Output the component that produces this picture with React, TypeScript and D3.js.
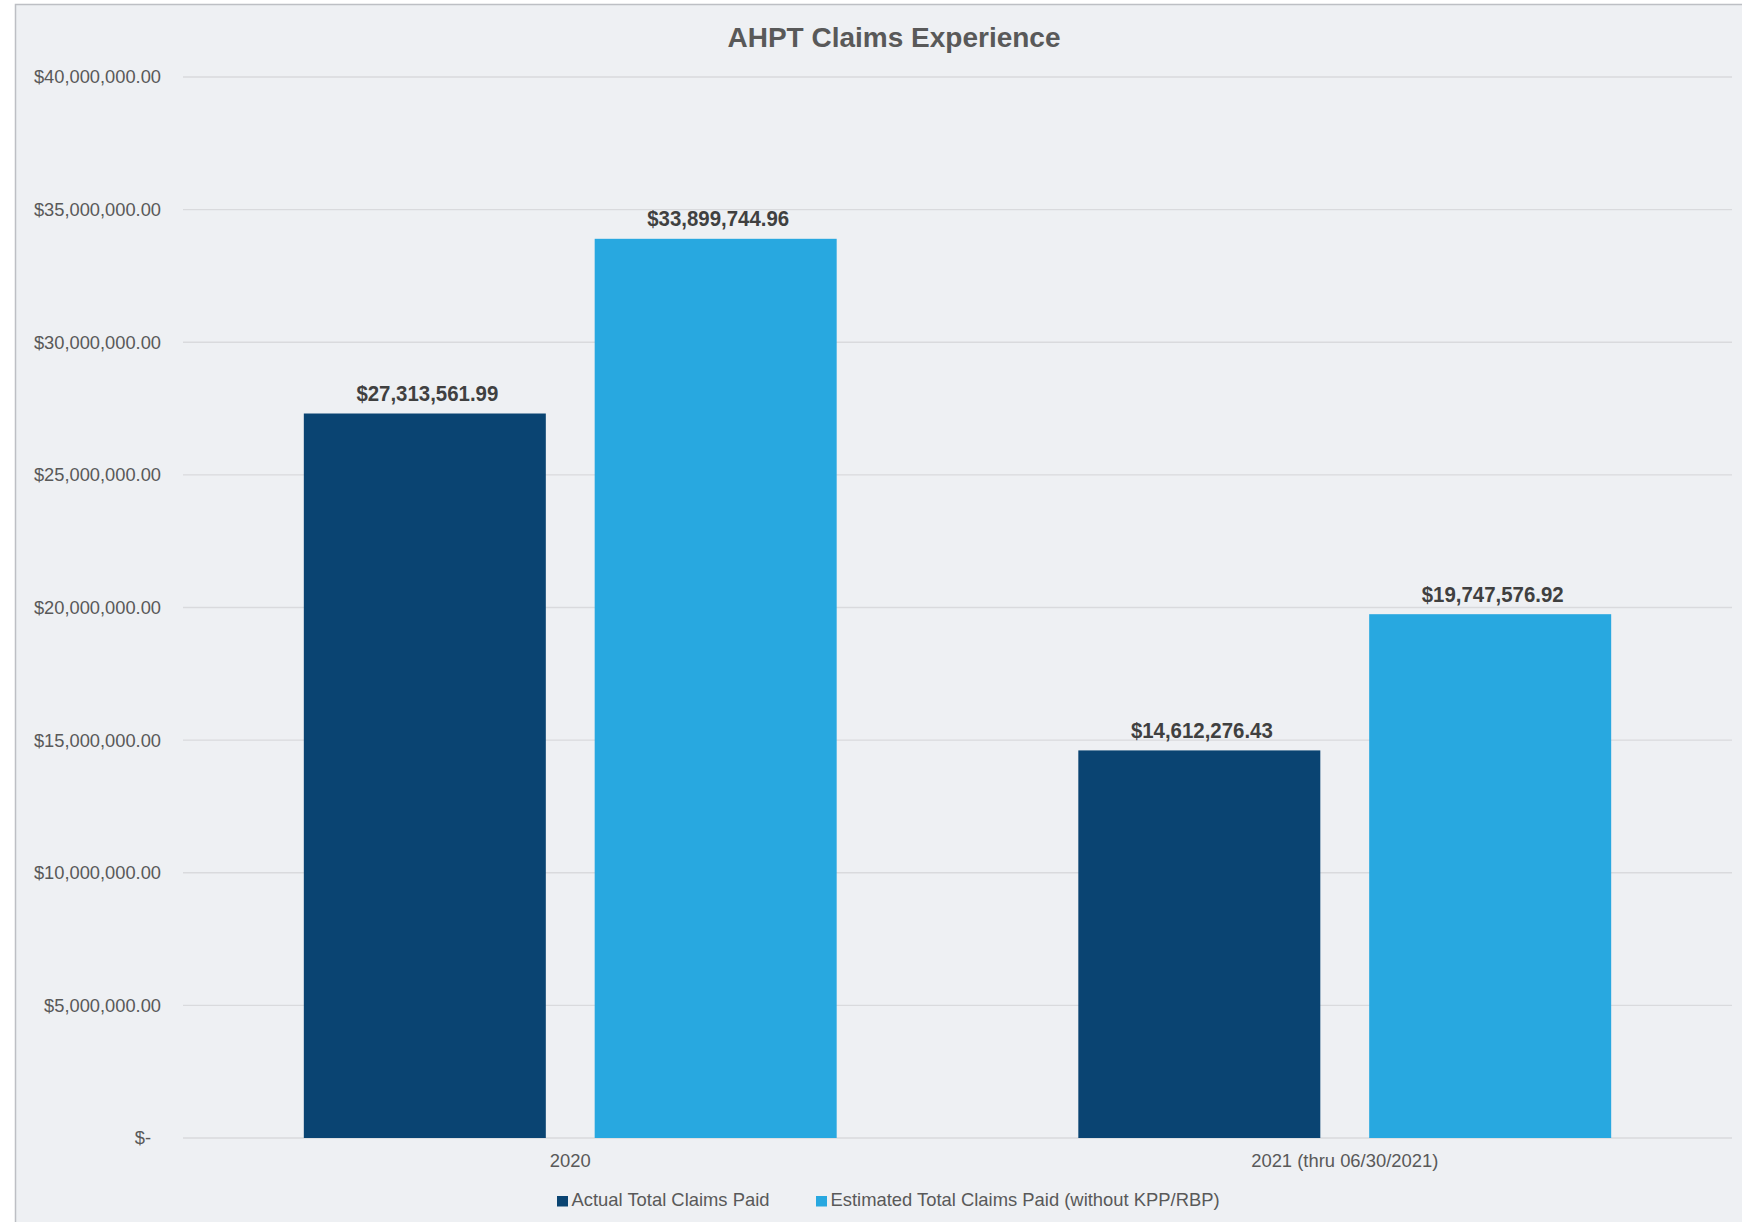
import React from "react";
import * as d3 from "d3";

const categories = ["2020", "2021 (thru 06/30/2021)"];
const seriesNames = ["Actual Total Claims Paid", "Estimated Total Claims Paid (without KPP/RBP)"];
const actualPaid = [27313561.99, 14612276.43];
const estimatedPaid = [33899744.96, 19747576.92];
const yTicks = [0, 5000000, 10000000, 15000000, 20000000, 25000000, 30000000, 35000000, 40000000];
const seriesColors = ["#0A4472", "#28A8E0"];

const W = 1742;
const H = 1222;
const plot = { left: 183, right: 1732, top: 77, bottom: 1138 };

export default function App() {
  const x = d3
    .scaleBand<string>()
    .domain(categories)
    .range([plot.left, plot.right])
    .paddingInner(0.312)
    .paddingOuter(0.156);
  const xs = d3
    .scaleBand<string>()
    .domain(seriesNames)
    .range([0, x.bandwidth()])
    .paddingInner(0.168)
    .paddingOuter(0);
  const y = d3.scaleLinear().domain([0, 40000000]).range([plot.bottom, plot.top]);
  const fmt = d3.format("$,.2f");
  const tickFmt = (v: number) => (v === 0 ? "$-" : fmt(v));
  const series = [actualPaid, estimatedPaid];

  const axisFont = "'Liberation Sans', Arial, sans-serif";

  return (
    <svg
      width={W}
      height={H}
      style={{ position: "absolute", left: 0, top: 0, display: "block", background: "#ffffff" }}
    >
      <rect x={15.5} y={4.5} width={1900} height={1400} fill="#EEF0F3" stroke="#BDBFC4" strokeWidth={1.5} />
      <text
        x={894}
        y={46.5}
        textAnchor="middle"
        fontFamily={axisFont}
        fontWeight="bold"
        fontSize={28}
        fill="#595959"
      >
        AHPT Claims Experience
      </text>
      {yTicks.map((t) => (
        <g key={t}>
          <line x1={plot.left} x2={plot.right} y1={y(t)} y2={y(t)} stroke="#D9DADD" strokeWidth={1.4} />
          <text
            x={t === 0 ? 151 : 161}
            y={y(t)}
            dy="0.35em"
            textAnchor="end"
            fontFamily={axisFont}
            fontSize={18.3}
            fill="#595959"
          >
            {tickFmt(t)}
          </text>
        </g>
      ))}
      {categories.map((c, ci) => (
        <g key={c}>
          {seriesNames.map((s, si) => {
            const v = series[si][ci];
            const bx = (x(c) as number) + (xs(s) as number);
            return (
              <g key={s}>
                <rect x={bx} y={y(v)} width={xs.bandwidth()} height={y(0) - y(v)} fill={seriesColors[si]} />
                <text
                  transform={`translate(${bx + xs.bandwidth() / 2 + 2.5},${y(v) - 12.5}) scale(0.95,1)`}
                  textAnchor="middle"
                  fontFamily={axisFont}
                  fontWeight="bold"
                  fontSize={21.5}
                  fill="#404040"
                >
                  {fmt(v)}
                </text>
              </g>
            );
          })}
          <text
            x={(x(c) as number) + x.bandwidth() / 2}
            y={1166.5}
            textAnchor="middle"
            fontFamily={axisFont}
            fontSize={18.4}
            fill="#595959"
          >
            {c}
          </text>
        </g>
      ))}
      {seriesNames.map((s, si) => {
        const lx = si === 0 ? 557 : 816;
        return (
          <g key={s}>
            <rect x={lx} y={1196} width={11} height={10.5} fill={seriesColors[si]} />
            <text x={lx + 14.5} y={1206} fontFamily={axisFont} fontSize={18.4} fill="#595959">
              {s}
            </text>
          </g>
        );
      })}
    </svg>
  );
}
